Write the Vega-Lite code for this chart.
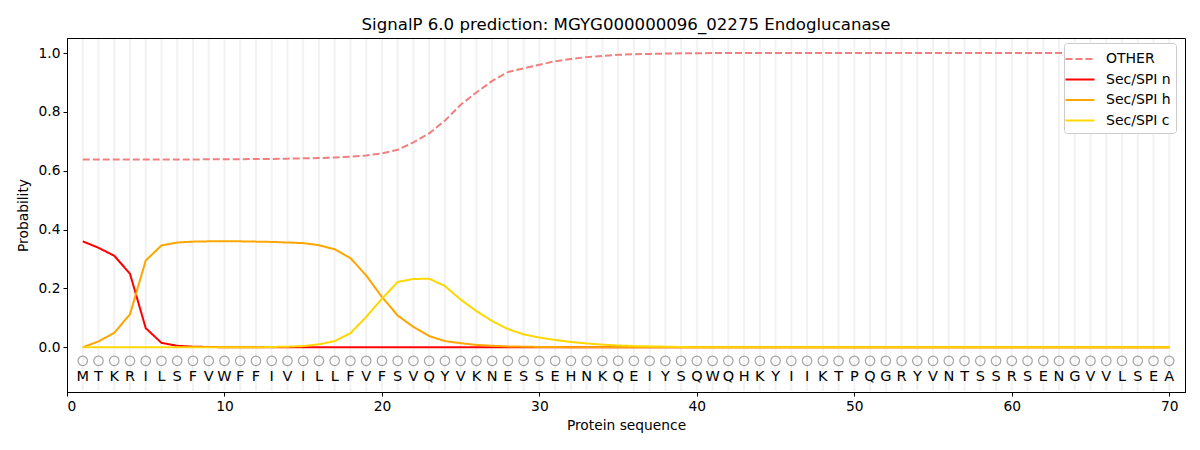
{
  "$schema": "https://vega.github.io/schema/vega-lite/v6.json",
  "autosize": {"type": "none"},
  "padding": {"left": 67, "top": 38, "right": 15, "bottom": 58},
  "width": 1118,
  "height": 354,
  "background": "white",
  "title": {
    "text": "SignalP 6.0 prediction: MGYG000000096_02275 Endoglucanase",
    "font": "DejaVu Sans",
    "fontSize": 16.6,
    "fontWeight": "normal",
    "color": "black",
    "offset": 4
  },
  "config": {
    "font": "DejaVu Sans",
    "view": {"stroke": "black", "strokeWidth": 1},
    "axis": {
      "domainColor": "black",
      "tickColor": "black",
      "labelColor": "black",
      "titleColor": "black",
      "labelFont": "DejaVu Sans",
      "titleFont": "DejaVu Sans",
      "labelFontSize": 13.8,
      "titleFontSize": 13.8,
      "titleFontWeight": "normal",
      "tickSize": 4,
      "grid": false
    }
  },
  "data": {
    "values": [
      {"pos": 1, "aa": "M", "OTHER": 0.638, "Sec/SPI n": 0.360, "Sec/SPI h": 0.000, "Sec/SPI c": 0.000},
      {"pos": 2, "aa": "T", "OTHER": 0.638, "Sec/SPI n": 0.338, "Sec/SPI h": 0.020, "Sec/SPI c": 0.000},
      {"pos": 3, "aa": "K", "OTHER": 0.638, "Sec/SPI n": 0.311, "Sec/SPI h": 0.049, "Sec/SPI c": 0.000},
      {"pos": 4, "aa": "R", "OTHER": 0.638, "Sec/SPI n": 0.250, "Sec/SPI h": 0.112, "Sec/SPI c": 0.000},
      {"pos": 5, "aa": "I", "OTHER": 0.638, "Sec/SPI n": 0.065, "Sec/SPI h": 0.295, "Sec/SPI c": 0.000},
      {"pos": 6, "aa": "L", "OTHER": 0.638, "Sec/SPI n": 0.015, "Sec/SPI h": 0.346, "Sec/SPI c": 0.000},
      {"pos": 7, "aa": "S", "OTHER": 0.638, "Sec/SPI n": 0.005, "Sec/SPI h": 0.356, "Sec/SPI c": 0.000},
      {"pos": 8, "aa": "F", "OTHER": 0.638, "Sec/SPI n": 0.002, "Sec/SPI h": 0.359, "Sec/SPI c": 0.000},
      {"pos": 9, "aa": "V", "OTHER": 0.639, "Sec/SPI n": 0.001, "Sec/SPI h": 0.360, "Sec/SPI c": 0.000},
      {"pos": 10, "aa": "W", "OTHER": 0.639, "Sec/SPI n": 0.000, "Sec/SPI h": 0.360, "Sec/SPI c": 0.000},
      {"pos": 11, "aa": "F", "OTHER": 0.639, "Sec/SPI n": 0.000, "Sec/SPI h": 0.360, "Sec/SPI c": 0.000},
      {"pos": 12, "aa": "F", "OTHER": 0.640, "Sec/SPI n": 0.000, "Sec/SPI h": 0.359, "Sec/SPI c": 0.000},
      {"pos": 13, "aa": "I", "OTHER": 0.640, "Sec/SPI n": 0.000, "Sec/SPI h": 0.358, "Sec/SPI c": 0.001},
      {"pos": 14, "aa": "V", "OTHER": 0.641, "Sec/SPI n": 0.000, "Sec/SPI h": 0.356, "Sec/SPI c": 0.002},
      {"pos": 15, "aa": "I", "OTHER": 0.642, "Sec/SPI n": 0.000, "Sec/SPI h": 0.354, "Sec/SPI c": 0.004},
      {"pos": 16, "aa": "L", "OTHER": 0.643, "Sec/SPI n": 0.000, "Sec/SPI h": 0.347, "Sec/SPI c": 0.010},
      {"pos": 17, "aa": "L", "OTHER": 0.645, "Sec/SPI n": 0.000, "Sec/SPI h": 0.333, "Sec/SPI c": 0.021},
      {"pos": 18, "aa": "F", "OTHER": 0.648, "Sec/SPI n": 0.000, "Sec/SPI h": 0.303, "Sec/SPI c": 0.048},
      {"pos": 19, "aa": "V", "OTHER": 0.652, "Sec/SPI n": 0.000, "Sec/SPI h": 0.244, "Sec/SPI c": 0.103},
      {"pos": 20, "aa": "F", "OTHER": 0.659, "Sec/SPI n": 0.000, "Sec/SPI h": 0.171, "Sec/SPI c": 0.165},
      {"pos": 21, "aa": "S", "OTHER": 0.671, "Sec/SPI n": 0.000, "Sec/SPI h": 0.108, "Sec/SPI c": 0.222},
      {"pos": 22, "aa": "V", "OTHER": 0.696, "Sec/SPI n": 0.000, "Sec/SPI h": 0.069, "Sec/SPI c": 0.232},
      {"pos": 23, "aa": "Q", "OTHER": 0.727, "Sec/SPI n": 0.000, "Sec/SPI h": 0.038, "Sec/SPI c": 0.233},
      {"pos": 24, "aa": "Y", "OTHER": 0.770, "Sec/SPI n": 0.000, "Sec/SPI h": 0.021, "Sec/SPI c": 0.208},
      {"pos": 25, "aa": "V", "OTHER": 0.824, "Sec/SPI n": 0.000, "Sec/SPI h": 0.014, "Sec/SPI c": 0.162},
      {"pos": 26, "aa": "K", "OTHER": 0.866, "Sec/SPI n": 0.000, "Sec/SPI h": 0.008, "Sec/SPI c": 0.123},
      {"pos": 27, "aa": "N", "OTHER": 0.905, "Sec/SPI n": 0.000, "Sec/SPI h": 0.005, "Sec/SPI c": 0.089},
      {"pos": 28, "aa": "E", "OTHER": 0.935, "Sec/SPI n": 0.000, "Sec/SPI h": 0.003, "Sec/SPI c": 0.062},
      {"pos": 29, "aa": "S", "OTHER": 0.948, "Sec/SPI n": 0.000, "Sec/SPI h": 0.002, "Sec/SPI c": 0.044},
      {"pos": 30, "aa": "S", "OTHER": 0.960, "Sec/SPI n": 0.000, "Sec/SPI h": 0.001, "Sec/SPI c": 0.033},
      {"pos": 31, "aa": "E", "OTHER": 0.972, "Sec/SPI n": 0.000, "Sec/SPI h": 0.001, "Sec/SPI c": 0.025},
      {"pos": 32, "aa": "H", "OTHER": 0.980, "Sec/SPI n": 0.000, "Sec/SPI h": 0.000, "Sec/SPI c": 0.018},
      {"pos": 33, "aa": "N", "OTHER": 0.986, "Sec/SPI n": 0.000, "Sec/SPI h": 0.000, "Sec/SPI c": 0.013},
      {"pos": 34, "aa": "K", "OTHER": 0.990, "Sec/SPI n": 0.000, "Sec/SPI h": 0.000, "Sec/SPI c": 0.009},
      {"pos": 35, "aa": "Q", "OTHER": 0.994, "Sec/SPI n": 0.000, "Sec/SPI h": 0.000, "Sec/SPI c": 0.006},
      {"pos": 36, "aa": "E", "OTHER": 0.996, "Sec/SPI n": 0.000, "Sec/SPI h": 0.000, "Sec/SPI c": 0.004},
      {"pos": 37, "aa": "I", "OTHER": 0.997, "Sec/SPI n": 0.000, "Sec/SPI h": 0.000, "Sec/SPI c": 0.003},
      {"pos": 38, "aa": "Y", "OTHER": 0.998, "Sec/SPI n": 0.000, "Sec/SPI h": 0.000, "Sec/SPI c": 0.002},
      {"pos": 39, "aa": "S", "OTHER": 0.999, "Sec/SPI n": 0.000, "Sec/SPI h": 0.000, "Sec/SPI c": 0.001},
      {"pos": 40, "aa": "Q", "OTHER": 0.999, "Sec/SPI n": 0.000, "Sec/SPI h": 0.000, "Sec/SPI c": 0.000},
      {"pos": 41, "aa": "W", "OTHER": 1.000, "Sec/SPI n": 0.000, "Sec/SPI h": 0.000, "Sec/SPI c": 0.000},
      {"pos": 42, "aa": "Q", "OTHER": 1.000, "Sec/SPI n": 0.000, "Sec/SPI h": 0.000, "Sec/SPI c": 0.000},
      {"pos": 43, "aa": "H", "OTHER": 1.000, "Sec/SPI n": 0.000, "Sec/SPI h": 0.000, "Sec/SPI c": 0.000},
      {"pos": 44, "aa": "K", "OTHER": 1.000, "Sec/SPI n": 0.000, "Sec/SPI h": 0.000, "Sec/SPI c": 0.000},
      {"pos": 45, "aa": "Y", "OTHER": 1.000, "Sec/SPI n": 0.000, "Sec/SPI h": 0.000, "Sec/SPI c": 0.000},
      {"pos": 46, "aa": "I", "OTHER": 1.000, "Sec/SPI n": 0.000, "Sec/SPI h": 0.000, "Sec/SPI c": 0.000},
      {"pos": 47, "aa": "I", "OTHER": 1.000, "Sec/SPI n": 0.000, "Sec/SPI h": 0.000, "Sec/SPI c": 0.000},
      {"pos": 48, "aa": "K", "OTHER": 1.000, "Sec/SPI n": 0.000, "Sec/SPI h": 0.000, "Sec/SPI c": 0.000},
      {"pos": 49, "aa": "T", "OTHER": 1.000, "Sec/SPI n": 0.000, "Sec/SPI h": 0.000, "Sec/SPI c": 0.000},
      {"pos": 50, "aa": "P", "OTHER": 1.000, "Sec/SPI n": 0.000, "Sec/SPI h": 0.000, "Sec/SPI c": 0.000},
      {"pos": 51, "aa": "Q", "OTHER": 1.000, "Sec/SPI n": 0.000, "Sec/SPI h": 0.000, "Sec/SPI c": 0.000},
      {"pos": 52, "aa": "G", "OTHER": 1.000, "Sec/SPI n": 0.000, "Sec/SPI h": 0.000, "Sec/SPI c": 0.000},
      {"pos": 53, "aa": "R", "OTHER": 1.000, "Sec/SPI n": 0.000, "Sec/SPI h": 0.000, "Sec/SPI c": 0.000},
      {"pos": 54, "aa": "Y", "OTHER": 1.000, "Sec/SPI n": 0.000, "Sec/SPI h": 0.000, "Sec/SPI c": 0.000},
      {"pos": 55, "aa": "V", "OTHER": 1.000, "Sec/SPI n": 0.000, "Sec/SPI h": 0.000, "Sec/SPI c": 0.000},
      {"pos": 56, "aa": "N", "OTHER": 1.000, "Sec/SPI n": 0.000, "Sec/SPI h": 0.000, "Sec/SPI c": 0.000},
      {"pos": 57, "aa": "T", "OTHER": 1.000, "Sec/SPI n": 0.000, "Sec/SPI h": 0.000, "Sec/SPI c": 0.000},
      {"pos": 58, "aa": "S", "OTHER": 1.000, "Sec/SPI n": 0.000, "Sec/SPI h": 0.000, "Sec/SPI c": 0.000},
      {"pos": 59, "aa": "S", "OTHER": 1.000, "Sec/SPI n": 0.000, "Sec/SPI h": 0.000, "Sec/SPI c": 0.000},
      {"pos": 60, "aa": "R", "OTHER": 1.000, "Sec/SPI n": 0.000, "Sec/SPI h": 0.000, "Sec/SPI c": 0.000},
      {"pos": 61, "aa": "S", "OTHER": 1.000, "Sec/SPI n": 0.000, "Sec/SPI h": 0.000, "Sec/SPI c": 0.000},
      {"pos": 62, "aa": "E", "OTHER": 1.000, "Sec/SPI n": 0.000, "Sec/SPI h": 0.000, "Sec/SPI c": 0.000},
      {"pos": 63, "aa": "N", "OTHER": 1.000, "Sec/SPI n": 0.000, "Sec/SPI h": 0.000, "Sec/SPI c": 0.000},
      {"pos": 64, "aa": "G", "OTHER": 1.000, "Sec/SPI n": 0.000, "Sec/SPI h": 0.000, "Sec/SPI c": 0.000},
      {"pos": 65, "aa": "V", "OTHER": 1.000, "Sec/SPI n": 0.000, "Sec/SPI h": 0.000, "Sec/SPI c": 0.000},
      {"pos": 66, "aa": "V", "OTHER": 1.000, "Sec/SPI n": 0.000, "Sec/SPI h": 0.000, "Sec/SPI c": 0.000},
      {"pos": 67, "aa": "L", "OTHER": 1.000, "Sec/SPI n": 0.000, "Sec/SPI h": 0.000, "Sec/SPI c": 0.000},
      {"pos": 68, "aa": "S", "OTHER": 1.000, "Sec/SPI n": 0.000, "Sec/SPI h": 0.000, "Sec/SPI c": 0.000},
      {"pos": 69, "aa": "E", "OTHER": 1.000, "Sec/SPI n": 0.000, "Sec/SPI h": 0.000, "Sec/SPI c": 0.000},
      {"pos": 70, "aa": "A", "OTHER": 1.000, "Sec/SPI n": 0.000, "Sec/SPI h": 0.000, "Sec/SPI c": 0.000}
    ]
  },
  "encoding": {
    "x": {
      "field": "pos",
      "type": "quantitative",
      "title": "Protein sequence",
      "scale": {"domain": [0, 71], "nice": false, "zero": false},
      "axis": {"values": [0, 10, 20, 30, 40, 50, 60, 70], "labelPadding": 3, "titlePadding": 6}
    }
  },
  "layer": [
    {
      "mark": {"type": "rule", "color": "#f2f2f2", "strokeWidth": 2},
      "encoding": {"y": {"datum": -0.149}, "y2": {"datum": 1.048}}
    },
    {
      "transform": [
        {"fold": ["OTHER", "Sec/SPI n", "Sec/SPI h", "Sec/SPI c"], "as": ["label", "prob"]}
      ],
      "mark": {"type": "line", "strokeWidth": 2},
      "encoding": {
        "y": {
          "field": "prob",
          "type": "quantitative",
          "title": "Probability",
          "scale": {"domain": [-0.152, 1.051], "nice": false, "zero": false},
          "axis": {"values": [0, 0.2, 0.4, 0.6, 0.8, 1.0], "format": ".1f", "labelPadding": 3, "titlePadding": 8}
        },
        "color": {
          "field": "label",
          "type": "nominal",
          "title": null,
          "scale": {
            "domain": ["OTHER", "Sec/SPI n", "Sec/SPI h", "Sec/SPI c"],
            "range": ["#f08080", "#ff0000", "#ffa500", "#ffd700"]
          },
          "legend": {
            "orient": "none",
            "legendX": 997,
            "legendY": 5,
            "symbolType": "M-1.45,0H1.45",
            "symbolSize": 400,
            "symbolStrokeWidth": 2,
            "labelFontSize": 14,
            "labelColor": "black",
            "labelFont": "DejaVu Sans",
            "labelOffset": 15,
            "rowPadding": 2.5,
            "padding": 5,
            "fillColor": "white",
            "strokeColor": "#cccccc",
            "cornerRadius": 3
          }
        },
        "strokeDash": {
          "field": "label",
          "type": "nominal",
          "title": null,
          "scale": {
            "domain": ["OTHER", "Sec/SPI n", "Sec/SPI h", "Sec/SPI c"],
            "range": [[7, 3], [1, 0], [1, 0], [1, 0]]
          }
        }
      }
    },
    {
      "mark": {"type": "point", "shape": "circle", "filled": false, "stroke": "#808080", "strokeWidth": 1.2, "size": 90},
      "encoding": {"y": {"datum": -0.046}}
    },
    {
      "mark": {"type": "text", "fontSize": 14.5, "color": "black", "font": "DejaVu Sans", "baseline": "middle", "align": "center"},
      "encoding": {"y": {"datum": -0.1}, "text": {"field": "aa"}}
    }
  ]
}
